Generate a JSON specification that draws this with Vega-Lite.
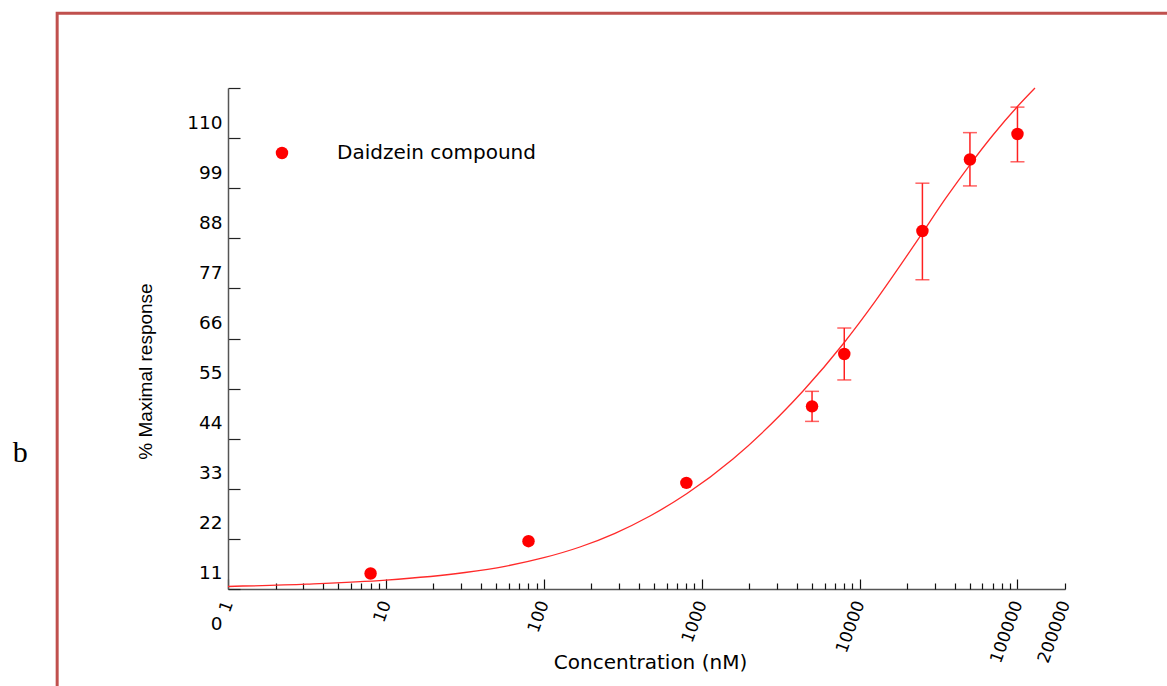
{
  "$schema": "https://vega.github.io/schema/vega-lite/v6.json",
  "width": 837,
  "height": 501,
  "autosize": "none",
  "padding": {"left": 228, "top": 88, "right": 102, "bottom": 97},
  "background": "white",
  "config": {"view": {"stroke": null}, "font": "Liberation Sans"},
  "datasets": {
    "obs": [
      {"conc": 8, "resp": 3.4, "lo": null, "hi": null, "series": "Daidzein compound"},
      {"conc": 80, "resp": 10.5, "lo": null, "hi": null, "series": "Daidzein compound"},
      {"conc": 800, "resp": 23.3, "lo": null, "hi": null, "series": "Daidzein compound"},
      {"conc": 5000, "resp": 40.1, "lo": 36.8, "hi": 43.4, "series": "Daidzein compound"},
      {"conc": 8000, "resp": 51.6, "lo": 45.9, "hi": 57.3, "series": "Daidzein compound"},
      {"conc": 25000, "resp": 78.6, "lo": 67.9, "hi": 89.1, "series": "Daidzein compound"},
      {"conc": 50000, "resp": 94.3, "lo": 88.5, "hi": 100.2, "series": "Daidzein compound"},
      {"conc": 100000, "resp": 99.9, "lo": 93.8, "hi": 105.8, "series": "Daidzein compound"}
    ],
    "fit": [
      {"conc": 1, "fit": 0.55},
      {"conc": 3.16, "fit": 1.08},
      {"conc": 10, "fit": 1.95},
      {"conc": 31.7, "fit": 3.62},
      {"conc": 56.8, "fit": 4.98},
      {"conc": 100, "fit": 6.87},
      {"conc": 169.4, "fit": 9.22},
      {"conc": 282.5, "fit": 12.23},
      {"conc": 470.6, "fit": 16.03},
      {"conc": 803, "fit": 20.9},
      {"conc": 1578, "fit": 28.54},
      {"conc": 3133, "fit": 38.14},
      {"conc": 4385, "fit": 43.47},
      {"conc": 7863, "fit": 53.79},
      {"conc": 12516, "fit": 63.08},
      {"conc": 18020, "fit": 70.92},
      {"conc": 24840, "fit": 78.05},
      {"conc": 35240, "fit": 85.85},
      {"conc": 49300, "fit": 92.87},
      {"conc": 69980, "fit": 99.68},
      {"conc": 99340, "fit": 105.83},
      {"conc": 129100, "fit": 110.0}
    ]
  },
  "layer": [
    {
      "data": {"values": [{}]},
      "mark": {"type": "rect", "fill": "transparent", "stroke": "#c0504d", "strokeWidth": 3, "clip": false},
      "encoding": {
        "x": {"datum": 0.0828, "type": "quantitative", "scale": {"type": "log", "domain": [1, 200000], "nice": false}, "axis": null},
        "x2": {"datum": 10000000},
        "y": {
          "datum": 126.4, "type": "quantitative",
          "scale": {"domain": [0, 110], "nice": false},
          "axis": {
            "orient": "left",
            "values": [0, 11, 22, 33, 44, 55, 66, 77, 88, 99, 110],
            "title": "% Maximal response",
            "titleFont": "Liberation Sans", "titleFontSize": 19, "titleFontWeight": "normal", "titleColor": "black",
            "titleX": -73, "titleY": 283,
            "labelFont": "DejaVu Sans", "labelFontSize": 18.5, "labelColor": "black",
            "labelOffset": 34, "labelPadding": 18, "labelFlush": false, "labelOverlap": false,
            "tickSize": -12, "tickColor": "#222", "tickWidth": 1.2,
            "domainColor": "#555", "domainWidth": 1.5, "grid": false
          }
        },
        "y2": {"datum": -25}
      }
    },
    {
      "data": {"name": "fit"},
      "mark": {"type": "line", "color": "#ff2a2a", "strokeWidth": 1.3, "interpolate": "monotone", "clip": false},
      "encoding": {
        "x": {
          "field": "conc", "type": "quantitative",
          "scale": {"type": "log", "domain": [1, 200000], "nice": false},
          "axis": {
            "orient": "bottom", "values": [1, 10, 100, 1000, 10000, 100000],
            "labels": false, "title": null, "grid": false,
            "tickSize": -10, "tickColor": "#111", "tickWidth": 1.2,
            "domain": true, "domainColor": "#555", "domainWidth": 1.5
          }
        },
        "y": {"field": "fit", "type": "quantitative", "scale": {"domain": [0, 110], "nice": false}, "axis": null}
      }
    },
    {
      "data": {"name": "obs"},
      "transform": [{"filter": "datum.lo != null"}],
      "mark": {"type": "errorbar", "color": "#ff2020", "thickness": 1.5, "ticks": {"size": 14, "thickness": 1.5, "color": "#ff2020"}},
      "encoding": {
        "x": {
          "field": "conc", "type": "quantitative",
          "scale": {"type": "log", "domain": [1, 200000], "nice": false},
          "axis": {
            "orient": "bottom",
            "values": [2, 3, 4, 5, 6, 7, 8, 9, 20, 30, 40, 50, 60, 70, 80, 90, 200, 300, 400, 500, 600, 700, 800, 900, 2000, 3000, 4000, 5000, 6000, 7000, 8000, 9000, 20000, 30000, 40000, 50000, 60000, 70000, 80000, 90000, 200000],
            "labels": false, "title": null, "grid": false, "domain": false,
            "tickSize": -6, "tickColor": "#111", "tickWidth": 1.2
          }
        },
        "y": {"field": "lo", "type": "quantitative", "scale": {"domain": [0, 110], "nice": false}, "axis": null},
        "y2": {"field": "hi"}
      }
    },
    {
      "data": {"name": "obs"},
      "mark": {"type": "point", "filled": true, "size": 155, "opacity": 1},
      "encoding": {
        "x": {
          "field": "conc", "type": "quantitative",
          "scale": {"type": "log", "domain": [1, 200000], "nice": false},
          "axis": {
            "orient": "bottom",
            "values": [1, 10, 100, 1000, 10000, 100000, 200000],
            "format": "d",
            "ticks": false, "domain": false, "grid": false,
            "labelAngle": -70, "labelFont": "DejaVu Sans", "labelFontSize": 17, "labelColor": "black",
            "labelPadding": 12, "labelFlush": false, "labelOverlap": false,
            "title": "Concentration (nM)",
            "titleFont": "DejaVu Sans", "titleFontSize": 20, "titleFontWeight": "normal", "titleColor": "black",
            "titleX": 422, "titleY": 79, "titleBaseline": "alphabetic"
          }
        },
        "y": {"field": "resp", "type": "quantitative", "scale": {"domain": [0, 110], "nice": false}, "axis": null},
        "color": {
          "field": "series", "type": "nominal",
          "scale": {"domain": ["Daidzein compound"], "range": ["#ff0000"]},
          "legend": {
            "title": null, "orient": "none", "legendX": 44, "legendY": 55,
            "symbolType": "circle", "symbolSize": 155, "symbolStrokeWidth": 0,
            "labelFont": "DejaVu Sans", "labelFontSize": 20, "labelColor": "black",
            "labelOffset": 45, "labelLimit": 500, "padding": 0
          }
        }
      }
    },
    {
      "data": {"values": [{}]},
      "mark": {"type": "text", "font": "Liberation Serif", "fontSize": 30, "align": "center", "baseline": "alphabetic", "color": "black", "clip": false},
      "encoding": {
        "x": {"datum": 0.0483, "type": "quantitative", "axis": null},
        "y": {"datum": 27.8, "type": "quantitative", "axis": null},
        "text": {"value": "b"}
      }
    }
  ],
  "resolve": {"axis": {"x": "independent", "y": "independent"}}
}
